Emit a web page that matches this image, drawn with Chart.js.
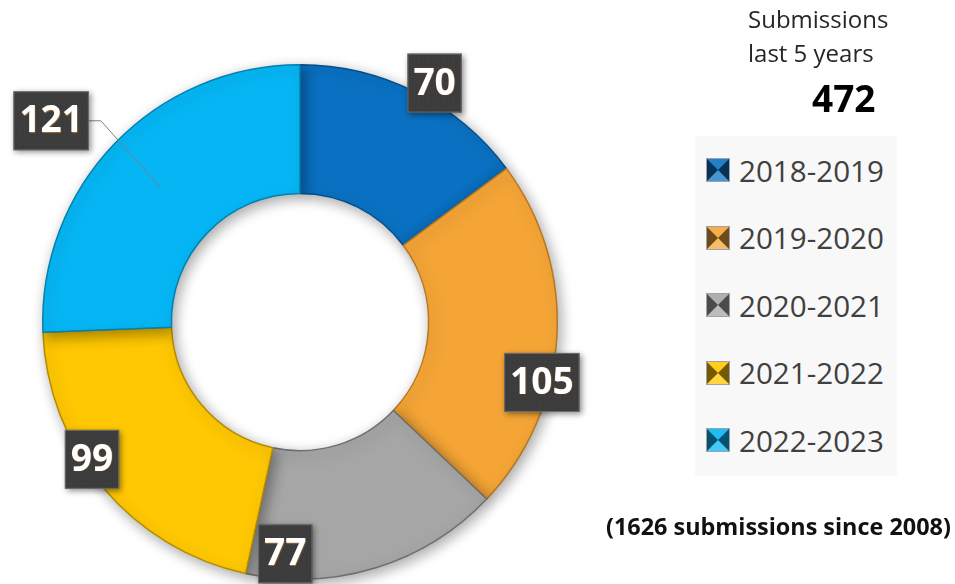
<!DOCTYPE html>
<html>
<head>
<meta charset="utf-8">
<script src="https://cdn.jsdelivr.net/npm/chart.js@4/dist/chart.umd.min.js"></script>
<style>
  html, body { margin: 0; padding: 0; background: #fff; }
  #wrap { position: relative; width: 955px; height: 584px; overflow: hidden; font-family: "Open Sans", "DejaVu Sans", sans-serif; }
  #c { position: absolute; left: 0; top: 0; }
  .title { position: absolute; left: 748px; color: #262626; font-size: 24px; line-height: 30px; }
  #total { position: absolute; left: 812px; top: 76px; font-size: 37px; font-weight: bold; color: #000; line-height: 44px; }
  #legend { position: absolute; left: 695px; top: 136px; width: 202px; height: 340px; background: #f8f8f8; }
  .item { position: absolute; left: 12px; height: 40px; display: flex; align-items: center; color: #404040; font-size: 29.6px; }
  .mk { width: 0; height: 0; border-style: solid; border-width: 11px; margin-right: 10px; box-shadow: 0 0 0 1px rgba(90,90,110,0.55); }
  #foot { position: absolute; left: 606px; top: 510px; font-size: 23.4px; font-weight: bold; color: #111; white-space: nowrap; }
</style>
</head>
<body>
<div id="wrap">
  <canvas id="c" width="955" height="584"></canvas>
  <div class="title" style="top:4px">Submissions</div>
  <div class="title" style="top:38px">last 5 years</div>
  <div id="total"></div>
  <div id="legend"></div>
  <div id="foot"></div>
</div>
<script>
// ---- data ----
const categories = ["2018-2019", "2019-2020", "2020-2021", "2021-2022", "2022-2023"];
const submissions = [70, 105, 77, 99, 121];
const footnote = "(1626 submissions since 2008)";

// ---- styles ----
const colors = ["#0a71c2", "#f4a536", "#a6a6a6", "#ffc803", "#06b6f4"];
const edgeColors = ["#074f88", "#b8761e", "#6e6e6e", "#b58c00", "#0480b0"];
// label placement: angle nudge (deg, clockwise) and distance as fraction of outer radius
const labelNudge = [2.7, 10.6, 20.8, 6.6, -4.9];
const labelDist = [1.066, 0.969, 0.903, 0.969, 1.244];
const leader = [false, false, false, false, true];

document.getElementById('total').textContent = submissions.reduce((a, b) => a + b, 0);
document.getElementById('foot').textContent = footnote;

function shade(hex, amt) {
  const n = parseInt(hex.slice(1), 16);
  let r = n >> 16, g = (n >> 8) & 255, b = n & 255;
  const f = v => amt >= 0 ? Math.round(v + (255 - v) * amt) : Math.round(v * (1 + amt));
  return `rgb(${f(r)},${f(g)},${f(b)})`;
}

// legend
const lg = document.getElementById('legend');
categories.forEach((c, i) => {
  const it = document.createElement('div');
  it.className = 'item';
  it.style.top = (14 + i * 67.5) + 'px';
  const mk = document.createElement('span');
  mk.className = 'mk';
  mk.style.borderColor = `${shade(colors[i], 0.1)} ${shade(colors[i], -0.55)} ${shade(colors[i], 0.25)} ${shade(colors[i], -0.55)}`;
  const tx = document.createElement('span');
  tx.textContent = c;
  it.appendChild(mk); it.appendChild(tx);
  lg.appendChild(it);
});

const shadowPlugin = {
  id: 'ringShadow',
  beforeDatasetsDraw(chart) {
    const ctx = chart.ctx;
    ctx.save();
    ctx.shadowColor = 'rgba(0,0,0,0.35)';
    ctx.shadowBlur = 14;
    ctx.shadowOffsetX = 3;
    ctx.shadowOffsetY = 4;
  },
  afterDatasetsDraw(chart) {
    chart.ctx.restore();
  }
};

const labelPlugin = {
  id: 'boxLabels',
  afterDraw(chart) {
    const ctx = chart.ctx;
    const meta = chart.getDatasetMeta(0);
    const vals = chart.data.datasets[0].data;
    meta.data.forEach((arc, i) => {
      const p = arc.getProps(['x', 'y', 'startAngle', 'endAngle', 'outerRadius', 'innerRadius'], true);
      const mid = (p.startAngle + p.endAngle) / 2;
      const a = mid + labelNudge[i] * Math.PI / 180;
      const d = p.outerRadius * labelDist[i];
      const cx = p.x + Math.cos(a) * d;
      const cy = p.y + Math.sin(a) * d;
      const text = String(vals[i]);
      ctx.save();
      ctx.font = 'bold 37px "Open Sans", "DejaVu Sans", sans-serif';
      const w = ctx.measureText(text).width + 12;
      const h = 59;
      const bx = cx - w / 2, by = cy - h / 2;
      if (leader[i]) {
        const rm = (p.outerRadius + p.innerRadius) / 2;
        const tx = p.x + Math.cos(mid) * rm, ty = p.y + Math.sin(mid) * rm;
        ctx.strokeStyle = '#7f7f7f';
        ctx.lineWidth = 1;
        ctx.beginPath();
        ctx.moveTo(bx + w, cy);
        ctx.lineTo(bx + w + 12, cy);
        ctx.lineTo(tx, ty);
        ctx.stroke();
      }
      ctx.shadowColor = 'rgba(0,0,0,0.45)';
      ctx.shadowBlur = 6;
      ctx.shadowOffsetX = 2;
      ctx.shadowOffsetY = 2;
      ctx.fillStyle = '#3c3c3c';
      ctx.fillRect(bx, by, w, h);
      ctx.shadowColor = 'transparent';
      ctx.fillStyle = 'rgba(255,255,255,0.07)';
      for (let yy = by + 3; yy < by + h; yy += 5) {
        for (let xx = bx + 3 + ((yy - by) % 10 ? 2.5 : 0); xx < bx + w; xx += 5) {
          ctx.fillRect(xx, yy, 1, 1);
        }
      }
      ctx.strokeStyle = 'rgba(120,120,120,0.8)';
      ctx.lineWidth = 1;
      ctx.strokeRect(bx + 0.5, by + 0.5, w - 1, h - 1);
      ctx.fillStyle = '#ffffff';
      ctx.textAlign = 'center';
      ctx.textBaseline = 'middle';
      ctx.shadowColor = 'rgba(230,140,40,0.6)';
      ctx.shadowBlur = 1;
      ctx.shadowOffsetX = 0.5;
      ctx.shadowOffsetY = 0.5;
      ctx.fillText(text, cx, cy + 1);
      ctx.restore();
    });
  }
};

function build() {
  new Chart(document.getElementById('c'), {
    type: 'doughnut',
    data: {
      labels: categories,
      datasets: [{
        data: submissions,
        backgroundColor: colors,
        borderColor: edgeColors,
        borderWidth: 1.5,
        hoverOffset: 0
      }]
    },
    options: {
      responsive: false,
      animation: false,
      cutout: '50%',
      rotation: 0,
      layout: { padding: { left: 42, right: 397, top: 64, bottom: 4 } },
      plugins: {
        legend: { display: false },
        tooltip: { enabled: false }
      }
    },
    plugins: [shadowPlugin, labelPlugin]
  });
}
if (document.fonts && document.fonts.load) {
  Promise.all([
    document.fonts.load('bold 37px "Open Sans"'),
    document.fonts.load('23px "Open Sans"')
  ]).then(build, build);
} else { build(); }
</script>
</body>
</html>
